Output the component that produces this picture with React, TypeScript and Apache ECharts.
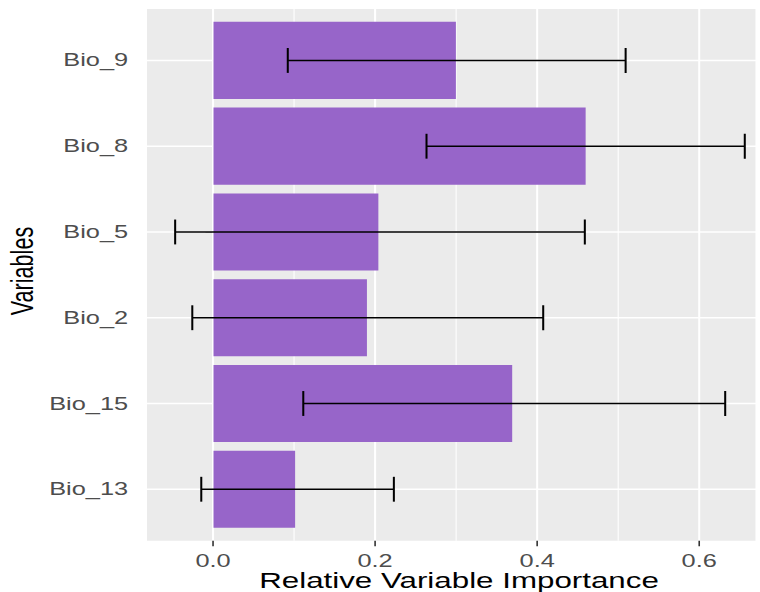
import React, { useEffect, useRef } from "react";
import * as echarts from "echarts";

// ---- data ----
const categories = ["Bio_9", "Bio_8", "Bio_5", "Bio_2", "Bio_15", "Bio_13"];
const importance = [0.297, 0.456, 0.202, 0.188, 0.366, 0.1];
const lowerErr = [0.091, 0.261, -0.047, -0.026, 0.11, -0.015];
const upperErr = [0.505, 0.651, 0.455, 0.404, 0.627, 0.221];
const majorBreaks = [0, 0.2, 0.4, 0.6];
const minorBreaks = [0.1, 0.3, 0.5];
const xMin = -0.0815;
const xMax = 0.6694;

// the reference image is horizontally stretched; reproduce by scaling the chart
const SX = 1.45;
const W = 760 / SX;
const H = 592;
const FONT = "'Liberation Sans', Arial, Helvetica, sans-serif";

export default function App() {
  const ref = useRef<HTMLDivElement>(null);

  useEffect(() => {
    if (!ref.current) return;
    const chart = echarts.init(ref.current, undefined, { renderer: "svg" });

    const panelTop = 9;
    const panelBottom = 51.3;
    const band = (H - panelTop - panelBottom) / 6.2;
    const left = 147 / SX;

    const vGrid = [
      ...majorBreaks.map((v) => [v, 1]),
      ...minorBreaks.map((v) => [v, 0]),
    ];

    const option: any = {
      animation: false,
      backgroundColor: "#ffffff",
      textStyle: { fontFamily: FONT },
      grid: [
        {
          left,
          right: 0,
          top: panelTop,
          bottom: panelBottom,
          show: true,
          backgroundColor: "#EBEBEB",
          borderWidth: 0,
          containLabel: false,
        },
        {
          left,
          right: 0,
          top: panelTop + 0.1 * band,
          bottom: panelBottom + 0.1 * band,
          containLabel: false,
        },
      ],
      xAxis: [
        {
          type: "value",
          gridIndex: 0,
          min: xMin,
          max: xMax,
          axisLine: { show: false },
          axisTick: { show: false },
          splitLine: { show: false },
          axisLabel: {
            color: "#4D4D4D",
            fontSize: 17.5,
            fontFamily: FONT,
            margin: 11,
            formatter: (v: number) =>
              Math.abs(v / 0.2 - Math.round(v / 0.2)) < 1e-6 ? v.toFixed(1) : "",
          },
        },
        {
          type: "value",
          gridIndex: 1,
          min: xMin,
          max: xMax,
          show: false,
        },
      ],
      yAxis: [
        { type: "value", gridIndex: 0, min: 0, max: 1, show: false },
        {
          type: "category",
          gridIndex: 1,
          data: categories,
          inverse: true,
          axisLine: { show: false },
          axisTick: {
            show: true,
            alignWithLabel: true,
            length: 5.5,
            lineStyle: { color: "#333333", width: 1 },
          },
          splitLine: { show: false },
          axisLabel: {
            color: "#4D4D4D",
            fontSize: 17.5,
            fontFamily: FONT,
            margin: 13,
          },
        },
      ],
      series: [
        {
          type: "custom",
          name: "vgrid",
          xAxisIndex: 0,
          yAxisIndex: 0,
          z: 1,
          silent: true,
          encode: { x: 0, y: 1 },
          data: vGrid,
          renderItem: (params: any, api: any) => {
            const v = api.value(0);
            const major = api.value(1) === 1;
            const top = api.coord([v, 1]);
            const bot = api.coord([v, 0]);
            const children: any[] = [
              {
                type: "line",
                shape: { x1: top[0], y1: top[1], x2: bot[0], y2: bot[1] },
                style: { stroke: "#FFFFFF", lineWidth: major ? 1.4 : 0.75 },
              },
            ];
            if (major) {
              children.push({
                type: "line",
                shape: { x1: bot[0], y1: bot[1], x2: bot[0], y2: bot[1] + 5.5 },
                style: { stroke: "#333333", lineWidth: 1.1 },
              });
            }
            return { type: "group", children };
          },
        },
        {
          type: "custom",
          name: "hgrid",
          xAxisIndex: 1,
          yAxisIndex: 1,
          z: 1,
          silent: true,
          encode: { x: 0, y: 1 },
          data: categories.map((c, i) => [0, i]),
          renderItem: (params: any, api: any) => {
            const p = api.coord([0, api.value(1)]);
            const cs = params.coordSys;
            return {
              type: "line",
              shape: { x1: cs.x, y1: p[1], x2: cs.x + cs.width, y2: p[1] },
              style: { stroke: "#FFFFFF", lineWidth: 1.4 },
            };
          },
        },
        {
          type: "bar",
          name: "importance",
          xAxisIndex: 1,
          yAxisIndex: 1,
          z: 2,
          barWidth: "90%",
          data: importance,
          itemStyle: { color: "#9765C9" },
        },
        {
          type: "custom",
          name: "errors",
          xAxisIndex: 1,
          yAxisIndex: 1,
          z: 3,
          silent: true,
          encode: { x: [0, 1], y: 2 },
          data: categories.map((c, i) => [lowerErr[i], upperErr[i], i]),
          renderItem: (params: any, api: any) => {
            const cat = api.value(2);
            const lo = api.coord([api.value(0), cat]);
            const hi = api.coord([api.value(1), cat]);
            const bandH = api.size([0, 1])[1];
            const h = (bandH * 0.29) / 2;
            const st = { stroke: "#000000", lineWidth: 1.4 };
            return {
              type: "group",
              children: [
                { type: "line", shape: { x1: lo[0], y1: lo[1], x2: hi[0], y2: hi[1] }, style: st },
                { type: "line", shape: { x1: lo[0], y1: lo[1] - h, x2: lo[0], y2: lo[1] + h }, style: st },
                { type: "line", shape: { x1: hi[0], y1: hi[1] - h, x2: hi[0], y2: hi[1] + h }, style: st },
              ],
            };
          },
        },
      ],
      graphic: [
        {
          type: "text",
          x: 459 / SX,
          y: 581,
          style: {
            text: "Relative Variable Importance",
            fontSize: 21.6,
            fontFamily: FONT,
            fill: "#000000",
            align: "center",
            verticalAlign: "middle",
          },
        },
        {
          type: "text",
          x: 22.5 / SX,
          y: 271,
          rotation: Math.PI / 2,
          style: {
            text: "Variables",
            fontSize: 21.6,
            fontFamily: FONT,
            fill: "#000000",
            align: "center",
            verticalAlign: "middle",
          },
        },
      ],
    };

    chart.setOption(option);
    return () => chart.dispose();
  }, []);

  return (
    <div
      style={{
        position: "fixed",
        left: 0,
        top: 0,
        width: 760,
        height: H,
        overflow: "hidden",
        background: "#ffffff",
      }}
    >
      <div
        ref={ref}
        style={{
          width: W,
          height: H,
          transform: `scaleX(${SX})`,
          transformOrigin: "0 0",
        }}
      />
    </div>
  );
}
